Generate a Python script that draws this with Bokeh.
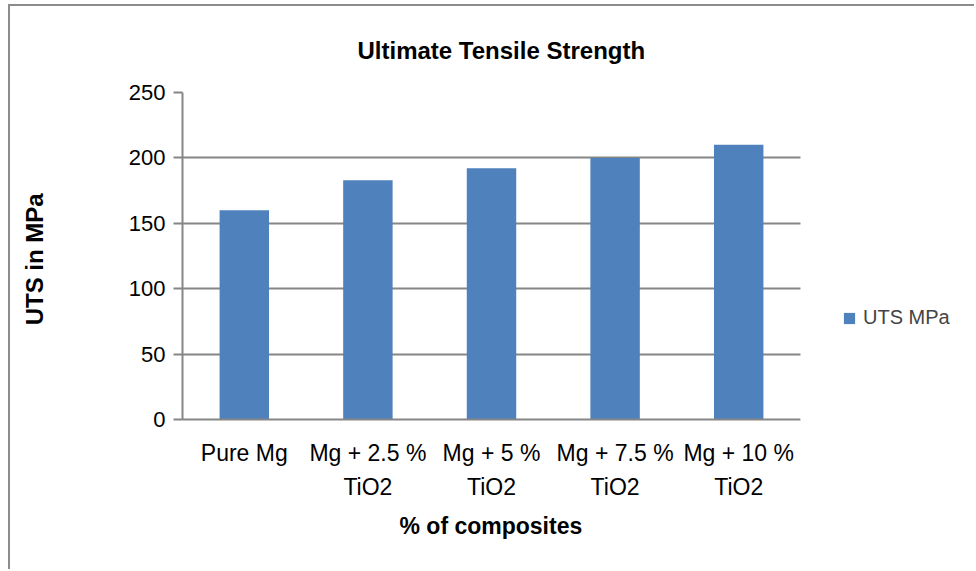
from bokeh.plotting import figure
from bokeh.models import Range1d, FixedTicker, Legend, LegendItem, ColumnDataSource, BoxAnnotation, Title
from bokeh.embed import file_html
from bokeh.resources import INLINE

categories = ["Pure Mg", "Mg + 2.5 %\nTiO2", "Mg + 5 %\nTiO2", "Mg + 7.5 %\nTiO2", "Mg + 10 %\nTiO2"]
uts_values = [160, 183, 192, 200, 210]
y_ticks = [0, 50, 100, 150, 200, 250]
series_name = "UTS MPa"

FONT = "Liberation Sans"
GRAY = "#868686"
BAR = "#4f81bd"

n = len(categories)
centers = [i + 0.5 for i in range(n)]
src = ColumnDataSource(dict(x=centers, val=uts_values))

# frame extends to the right edge so that the legend is not clipped;
# plotting area of the categories spans 618 px out of 794 px
x_end = n * 794 / 618

p = figure(width=966, height=565, output_backend="svg", toolbar_location=None,
           x_range=Range1d(0, x_end), y_range=Range1d(0, 250),
           min_border_left=172, min_border_right=0,
           min_border_top=86, min_border_bottom=152)
p.styles = {"margin-left": "8px", "margin-top": "4px",
            "border-left": "2px solid #8c8c8c", "border-top": "2px solid #8c8c8c"}

r = p.vbar(x="x", top="val", width=0.4, source=src, fill_color=BAR, line_color=None)

p.title.text = "Ultimate Tensile Strength"
p.title.align = "left"
p.title.offset = 175
p.title.text_font = FONT
p.title.text_font_size = "24px"
p.title.text_font_style = "bold"
p.title.text_color = "black"
p.title.standoff = 57

p.outline_line_color = None
p.background_fill_color = "white"
p.border_fill_color = "white"

p.xgrid.grid_line_color = None
p.ygrid.grid_line_color = GRAY
p.ygrid.grid_line_width = 2
p.ygrid.ticker = FixedTicker(ticks=y_ticks)

# hide the grid beyond the last category (legend area)
p.add_layout(BoxAnnotation(left=n, fill_color="white", fill_alpha=1, line_color=None))

p.yaxis.ticker = FixedTicker(ticks=y_ticks)
p.yaxis.axis_line_color = GRAY
p.yaxis.axis_line_width = 2
p.yaxis.major_tick_line_color = GRAY
p.yaxis.major_tick_line_width = 2
p.yaxis.major_tick_out = 9
p.yaxis.major_tick_in = 0
p.yaxis.minor_tick_line_color = None
p.yaxis.major_label_text_font = FONT
p.yaxis.major_label_text_font_size = "22px"
p.yaxis.major_label_text_color = "black"
p.yaxis.major_label_standoff = 8
p.yaxis.axis_label = "UTS in  MPa"
p.yaxis.axis_label_text_font = FONT
p.yaxis.axis_label_text_font_size = "24px"
p.yaxis.axis_label_text_font_style = "bold"
p.yaxis.axis_label_text_color = "black"
p.yaxis.axis_label_standoff = 78

p.xaxis.ticker = FixedTicker(ticks=centers)
p.xaxis.major_label_overrides = {c: lab for c, lab in zip(centers, categories)}
p.xaxis.bounds = (0, n)
p.xaxis.axis_line_color = GRAY
p.xaxis.axis_line_width = 2
p.xaxis.major_tick_line_color = None
p.xaxis.major_tick_out = 0
p.xaxis.major_tick_in = 0
p.xaxis.minor_tick_line_color = None
p.xaxis.major_label_text_font = FONT
p.xaxis.major_label_text_font_size = "23px"
p.xaxis.major_label_text_color = "black"
p.xaxis.major_label_text_line_height = 1.33
p.xaxis.major_label_standoff = 20

xtitle = Title(text="% of  composites", align="left", offset=217,
               text_font=FONT, text_font_size="23px", text_font_style="bold",
               text_color="black", standoff=14)
p.add_layout(xtitle, "below")

legend = Legend(items=[LegendItem(label=series_name, renderers=[r])],
                location=(660, 90), padding=0, margin=0, spacing=0,
                glyph_width=14, glyph_height=14, label_height=20, label_standoff=7,
                label_text_font=FONT, label_text_font_size="20px",
                border_line_color=None, background_fill_alpha=0)
p.add_layout(legend, "center")

open("out.html", "w").write(file_html(p, INLINE))
